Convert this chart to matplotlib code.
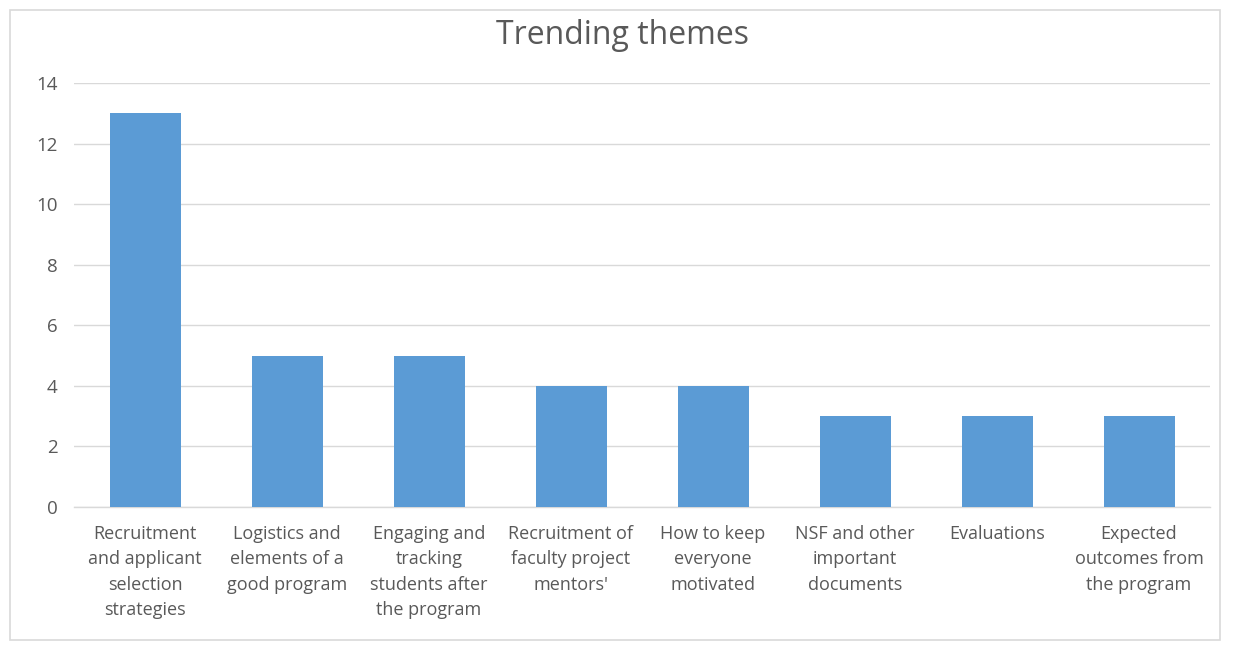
import matplotlib
matplotlib.use("Agg")
import matplotlib.pyplot as plt
from matplotlib.patches import Rectangle

categories = [
    "Recruitment\nand applicant\nselection\nstrategies",
    "Logistics and\nelements of a\ngood program",
    "Engaging and\ntracking\nstudents after\nthe program",
    "Recruitment of\nfaculty project\nmentors'",
    "How to keep\neveryone\nmotivated",
    "NSF and other\nimportant\ndocuments",
    "Evaluations",
    "Expected\noutcomes from\nthe program",
]
values = [13, 5, 5, 4, 4, 3, 3, 3]
yticks = [0, 2, 4, 6, 8, 10, 12, 14]

plt.rcParams['font.family'] = ['Open Sans', 'DejaVu Sans']

fig = plt.figure(figsize=(12.36, 6.47), dpi=100)
fig.patches.append(Rectangle((10/1236, 7/647), 1210/1236, 630/647, transform=fig.transFigure,
                             fill=False, edgecolor='#D9D9D9', linewidth=1.2))
ax = fig.add_axes([74/1236, 140/647, 1136/1236, 424/647])

x = list(range(len(categories)))
ax.bar(x, values, width=0.5, color='#5B9BD5', zorder=3)
ax.set_xlim(-0.5, len(categories) - 0.5)
ax.set_ylim(0, 14)
ax.set_yticks(yticks)
ax.set_yticklabels([str(t) for t in yticks], fontsize=13.5, color='#595959')
ax.set_xticks(x)
ax.set_xticklabels(categories, fontsize=13, color='#595959', linespacing=1.52, va='top')
ax.tick_params(axis='both', length=0)
ax.tick_params(axis='y', pad=12)
ax.tick_params(axis='x', pad=13)
ax.grid(axis='y', color='#D9D9D9', linewidth=1, zorder=0)
for s in ['top', 'right', 'left']:
    ax.spines[s].set_visible(False)
ax.spines['bottom'].set_color('#D9D9D9')
ax.spines['bottom'].set_linewidth(1)

fig.text(623/1236, 1 - 35/647, "Trending themes", ha='center', va='center',
         fontsize=23, color='#595959')

fig.savefig("out.png", dpi=100, facecolor='white')
